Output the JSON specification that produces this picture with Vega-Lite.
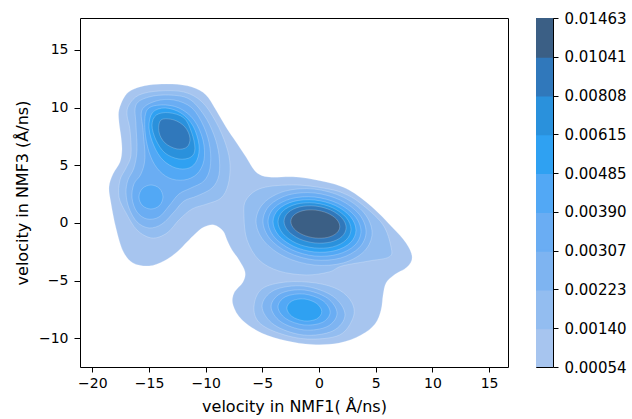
{
  "$schema": "https://vega.github.io/schema/vega-lite/v6.json",
  "padding": {"left": 13, "top": 10, "right": 0, "bottom": 0},
  "bounds": "flush",
  "spacing": 28,
  "config": {
    "view": {"stroke": "#000000", "strokeWidth": 1},
    "font": "DejaVu Sans",
    "axis": {"domain": false, "grid": false, "tickColor": "#000000", "tickWidth": 1, "labelColor": "#000000", "labelFont": "DejaVu Sans", "labelFontSize": 14, "titleFont": "DejaVu Sans", "titleFontSize": 16, "titleFontWeight": "normal", "titleColor": "#000000"}
  },
  "hconcat": [
    {
      "width": 428,
      "height": 349,
      "data": {"values": [
        {"p":"1a","lev":1,"i":0,"x":-17.65,"y":9.78},{"p":"1a","lev":1,"i":1,"x":-17.12,"y":11.00},{"p":"1a","lev":1,"i":2,"x":-16.33,"y":11.60},{"p":"1a","lev":1,"i":3,"x":-15.00,"y":11.95},{"p":"1a","lev":1,"i":4,"x":-12.97,"y":12.03},{"p":"1a","lev":1,"i":5,"x":-11.21,"y":11.77},{"p":"1a","lev":1,"i":6,"x":-9.97,"y":11.08},{"p":"1a","lev":1,"i":7,"x":-9.09,"y":9.78},{"p":"1a","lev":1,"i":8,"x":-8.21,"y":8.31},{"p":"1a","lev":1,"i":9,"x":-7.32,"y":7.01},{"p":"1a","lev":1,"i":10,"x":-6.44,"y":5.71},{"p":"1a","lev":1,"i":11,"x":-5.56,"y":4.42},{"p":"1a","lev":1,"i":12,"x":-4.41,"y":3.98},{"p":"1a","lev":1,"i":13,"x":-2.03,"y":3.98},{"p":"1a","lev":1,"i":14,"x":0.62,"y":3.55},{"p":"1a","lev":1,"i":15,"x":2.65,"y":2.86},{"p":"1a","lev":1,"i":16,"x":4.68,"y":1.39},{"p":"1a","lev":1,"i":17,"x":6.44,"y":-0.35},{"p":"1a","lev":1,"i":18,"x":7.68,"y":-1.73},{"p":"1a","lev":1,"i":19,"x":8.21,"y":-2.94},{"p":"1a","lev":1,"i":20,"x":7.77,"y":-3.81},{"p":"1a","lev":1,"i":21,"x":6.62,"y":-4.50},{"p":"1a","lev":1,"i":22,"x":5.91,"y":-5.19},{"p":"1a","lev":1,"i":23,"x":5.65,"y":-6.23},{"p":"1a","lev":1,"i":24,"x":5.47,"y":-7.53},{"p":"1a","lev":1,"i":25,"x":4.94,"y":-8.74},{"p":"1a","lev":1,"i":26,"x":3.71,"y":-9.70},{"p":"1a","lev":1,"i":27,"x":1.77,"y":-10.40},{"p":"1a","lev":1,"i":28,"x":-0.62,"y":-10.52},{"p":"1a","lev":1,"i":29,"x":-2.91,"y":-10.20},{"p":"1a","lev":1,"i":30,"x":-5.03,"y":-9.55},{"p":"1a","lev":1,"i":31,"x":-6.79,"y":-8.40},{"p":"1a","lev":1,"i":32,"x":-7.59,"y":-7.10},{"p":"1a","lev":1,"i":33,"x":-7.50,"y":-6.06},{"p":"1a","lev":1,"i":34,"x":-6.71,"y":-5.11},{"p":"1a","lev":1,"i":35,"x":-6.53,"y":-4.24},{"p":"1a","lev":1,"i":36,"x":-7.06,"y":-3.20},{"p":"1a","lev":1,"i":37,"x":-7.68,"y":-2.34},{"p":"1a","lev":1,"i":38,"x":-8.12,"y":-1.47},{"p":"1a","lev":1,"i":39,"x":-8.47,"y":-0.69},{"p":"1a","lev":1,"i":40,"x":-9.27,"y":-0.17},{"p":"1a","lev":1,"i":41,"x":-10.15,"y":-0.35},{"p":"1a","lev":1,"i":42,"x":-10.94,"y":-0.95},{"p":"1a","lev":1,"i":43,"x":-11.65,"y":-1.65},{"p":"1a","lev":1,"i":44,"x":-12.53,"y":-2.51},{"p":"1a","lev":1,"i":45,"x":-13.68,"y":-3.29},{"p":"1a","lev":1,"i":46,"x":-15.00,"y":-3.72},{"p":"1a","lev":1,"i":47,"x":-16.42,"y":-3.46},{"p":"1a","lev":1,"i":48,"x":-17.30,"y":-2.42},{"p":"1a","lev":1,"i":49,"x":-17.92,"y":-0.43},{"p":"1a","lev":1,"i":50,"x":-18.36,"y":1.73},{"p":"1a","lev":1,"i":51,"x":-18.53,"y":3.12},{"p":"1a","lev":1,"i":52,"x":-18.18,"y":4.24},{"p":"1a","lev":1,"i":53,"x":-17.56,"y":5.28},{"p":"1a","lev":1,"i":54,"x":-17.39,"y":6.32},{"p":"1a","lev":1,"i":55,"x":-17.47,"y":7.45},{"p":"1a","lev":1,"i":56,"x":-17.65,"y":8.74},

        {"p":"2a","lev":2,"i":0,"x":-16.77,"y":10.22},{"p":"2a","lev":2,"i":1,"x":-15.89,"y":11.08},{"p":"2a","lev":2,"i":2,"x":-14.12,"y":11.43},{"p":"2a","lev":2,"i":3,"x":-11.92,"y":11.34},{"p":"2a","lev":2,"i":4,"x":-10.32,"y":10.48},{"p":"2a","lev":2,"i":5,"x":-9.09,"y":8.74},{"p":"2a","lev":2,"i":6,"x":-8.21,"y":6.75},{"p":"2a","lev":2,"i":7,"x":-7.85,"y":5.02},{"p":"2a","lev":2,"i":8,"x":-8.03,"y":3.29},{"p":"2a","lev":2,"i":9,"x":-8.65,"y":2.16},{"p":"2a","lev":2,"i":10,"x":-9.88,"y":1.65},{"p":"2a","lev":2,"i":11,"x":-11.21,"y":1.21},{"p":"2a","lev":2,"i":12,"x":-12.36,"y":0.26},{"p":"2a","lev":2,"i":13,"x":-13.42,"y":-0.87},{"p":"2a","lev":2,"i":14,"x":-14.74,"y":-1.30},{"p":"2a","lev":2,"i":15,"x":-16.06,"y":-0.61},{"p":"2a","lev":2,"i":16,"x":-17.03,"y":0.87},{"p":"2a","lev":2,"i":17,"x":-17.65,"y":2.25},{"p":"2a","lev":2,"i":18,"x":-17.56,"y":3.72},{"p":"2a","lev":2,"i":19,"x":-17.03,"y":4.76},{"p":"2a","lev":2,"i":20,"x":-16.59,"y":5.89},{"p":"2a","lev":2,"i":21,"x":-16.68,"y":8.05},{"p":"2a","lev":2,"i":22,"x":-16.94,"y":9.35},

        {"p":"2b","lev":2,"i":0,"x":-6.44,"y":1.99},{"p":"2b","lev":2,"i":1,"x":-5.03,"y":3.03},{"p":"2b","lev":2,"i":2,"x":-2.03,"y":3.29},{"p":"2b","lev":2,"i":3,"x":0.80,"y":2.95},{"p":"2b","lev":2,"i":4,"x":2.20,"y":2.55},{"p":"2b","lev":2,"i":5,"x":3.60,"y":1.75},{"p":"2b","lev":2,"i":6,"x":5.60,"y":-0.10},{"p":"2b","lev":2,"i":7,"x":6.35,"y":-2.08},{"p":"2b","lev":2,"i":8,"x":6.18,"y":-2.94},{"p":"2b","lev":2,"i":9,"x":4.41,"y":-3.29},{"p":"2b","lev":2,"i":10,"x":2.03,"y":-3.72},{"p":"2b","lev":2,"i":11,"x":0.88,"y":-4.24},{"p":"2b","lev":2,"i":12,"x":-1.15,"y":-4.50},{"p":"2b","lev":2,"i":13,"x":-3.53,"y":-4.16},{"p":"2b","lev":2,"i":14,"x":-5.30,"y":-3.20},{"p":"2b","lev":2,"i":15,"x":-6.35,"y":-1.47},{"p":"2b","lev":2,"i":16,"x":-6.62,"y":0.52},

        {"p":"2c","lev":2,"i":0,"x":-5.03,"y":-5.70},{"p":"2c","lev":2,"i":1,"x":-2.91,"y":-5.11},{"p":"2c","lev":2,"i":2,"x":-0.26,"y":-5.20},{"p":"2c","lev":2,"i":3,"x":1.77,"y":-5.80},{"p":"2c","lev":2,"i":4,"x":2.90,"y":-6.90},{"p":"2c","lev":2,"i":5,"x":3.00,"y":-8.20},{"p":"2c","lev":2,"i":6,"x":1.80,"y":-9.70},{"p":"2c","lev":2,"i":7,"x":-1.00,"y":-10.05},{"p":"2c","lev":2,"i":8,"x":-3.50,"y":-9.55},{"p":"2c","lev":2,"i":9,"x":-5.30,"y":-8.60},{"p":"2c","lev":2,"i":10,"x":-5.74,"y":-7.20},

        {"p":"3a","lev":3,"i":0,"x":-16.15,"y":10.22},{"p":"3a","lev":3,"i":1,"x":-15.00,"y":10.91},{"p":"3a","lev":3,"i":2,"x":-13.24,"y":11.08},{"p":"3a","lev":3,"i":3,"x":-11.47,"y":10.74},{"p":"3a","lev":3,"i":4,"x":-10.15,"y":9.35},{"p":"3a","lev":3,"i":5,"x":-9.27,"y":7.62},{"p":"3a","lev":3,"i":6,"x":-8.83,"y":5.89},{"p":"3a","lev":3,"i":7,"x":-8.83,"y":4.16},{"p":"3a","lev":3,"i":8,"x":-9.44,"y":3.03},{"p":"3a","lev":3,"i":9,"x":-10.77,"y":2.34},{"p":"3a","lev":3,"i":10,"x":-11.92,"y":1.90},{"p":"3a","lev":3,"i":11,"x":-12.80,"y":0.95},{"p":"3a","lev":3,"i":12,"x":-13.86,"y":-0.09},{"p":"3a","lev":3,"i":13,"x":-15.00,"y":-0.43},{"p":"3a","lev":3,"i":14,"x":-16.06,"y":0.09},{"p":"3a","lev":3,"i":15,"x":-16.77,"y":1.30},{"p":"3a","lev":3,"i":16,"x":-17.03,"y":2.60},{"p":"3a","lev":3,"i":17,"x":-16.86,"y":3.72},{"p":"3a","lev":3,"i":18,"x":-16.33,"y":4.76},{"p":"3a","lev":3,"i":19,"x":-16.06,"y":6.32},{"p":"3a","lev":3,"i":20,"x":-16.15,"y":8.48},

        {"p":"3b","lev":3,"i":0,"x":4.68,"y":-0.86},{"p":"3b","lev":3,"i":1,"x":3.99,"y":0.85},{"p":"3b","lev":3,"i":2,"x":2.12,"y":2.24},{"p":"3b","lev":3,"i":3,"x":-0.44,"y":2.94},{"p":"3b","lev":3,"i":4,"x":-3.00,"y":2.76},{"p":"3b","lev":3,"i":5,"x":-4.87,"y":1.74},{"p":"3b","lev":3,"i":6,"x":-5.56,"y":0.16},{"p":"3b","lev":3,"i":7,"x":-4.87,"y":-1.55},{"p":"3b","lev":3,"i":8,"x":-3.00,"y":-2.94},{"p":"3b","lev":3,"i":9,"x":-0.44,"y":-3.64},{"p":"3b","lev":3,"i":10,"x":2.12,"y":-3.46},{"p":"3b","lev":3,"i":11,"x":3.99,"y":-2.44},

        {"p":"3c","lev":3,"i":0,"x":2.29,"y":-7.95},{"p":"3c","lev":3,"i":1,"x":1.22,"y":-6.34},{"p":"3c","lev":3,"i":2,"x":-1.37,"y":-5.46},{"p":"3c","lev":3,"i":3,"x":-3.96,"y":-5.82},{"p":"3c","lev":3,"i":4,"x":-5.03,"y":-7.21},{"p":"3c","lev":3,"i":5,"x":-3.96,"y":-8.82},{"p":"3c","lev":3,"i":6,"x":-1.37,"y":-9.70},{"p":"3c","lev":3,"i":7,"x":1.22,"y":-9.34},

        {"p":"4a","lev":4,"i":0,"x":-15.62,"y":9.78},{"p":"4a","lev":4,"i":1,"x":-14.38,"y":10.56},{"p":"4a","lev":4,"i":2,"x":-12.80,"y":10.65},{"p":"4a","lev":4,"i":3,"x":-11.21,"y":9.96},{"p":"4a","lev":4,"i":4,"x":-10.15,"y":8.31},{"p":"4a","lev":4,"i":5,"x":-9.62,"y":6.49},{"p":"4a","lev":4,"i":6,"x":-9.62,"y":4.76},{"p":"4a","lev":4,"i":7,"x":-10.15,"y":3.64},{"p":"4a","lev":4,"i":8,"x":-11.30,"y":3.03},{"p":"4a","lev":4,"i":9,"x":-12.36,"y":2.51},{"p":"4a","lev":4,"i":10,"x":-13.24,"y":1.47},{"p":"4a","lev":4,"i":11,"x":-14.12,"y":0.52},{"p":"4a","lev":4,"i":12,"x":-15.18,"y":0.35},{"p":"4a","lev":4,"i":13,"x":-16.06,"y":0.95},{"p":"4a","lev":4,"i":14,"x":-16.50,"y":2.16},{"p":"4a","lev":4,"i":15,"x":-16.33,"y":3.38},{"p":"4a","lev":4,"i":16,"x":-15.71,"y":4.24},{"p":"4a","lev":4,"i":17,"x":-15.36,"y":5.63},{"p":"4a","lev":4,"i":18,"x":-15.53,"y":8.05},

        {"p":"4b","lev":4,"i":0,"x":4.15,"y":-0.76},{"p":"4b","lev":4,"i":1,"x":3.54,"y":0.76},{"p":"4b","lev":4,"i":2,"x":1.88,"y":1.98},{"p":"4b","lev":4,"i":3,"x":-0.40,"y":2.60},{"p":"4b","lev":4,"i":4,"x":-2.68,"y":2.44},{"p":"4b","lev":4,"i":5,"x":-4.34,"y":1.54},{"p":"4b","lev":4,"i":6,"x":-4.95,"y":0.16},{"p":"4b","lev":4,"i":7,"x":-4.34,"y":-1.36},{"p":"4b","lev":4,"i":8,"x":-2.68,"y":-2.58},{"p":"4b","lev":4,"i":9,"x":-0.40,"y":-3.20},{"p":"4b","lev":4,"i":10,"x":1.88,"y":-3.04},{"p":"4b","lev":4,"i":11,"x":3.54,"y":-2.14},

        {"p":"4c","lev":4,"i":0,"x":1.59,"y":-7.82},{"p":"4c","lev":4,"i":1,"x":0.74,"y":-6.51},{"p":"4c","lev":4,"i":2,"x":-1.32,"y":-5.80},{"p":"4c","lev":4,"i":3,"x":-3.38,"y":-6.10},{"p":"4c","lev":4,"i":4,"x":-4.23,"y":-7.24},{"p":"4c","lev":4,"i":5,"x":-3.38,"y":-8.55},{"p":"4c","lev":4,"i":6,"x":-1.32,"y":-9.26},{"p":"4c","lev":4,"i":7,"x":0.74,"y":-8.96},

        {"p":"5a","lev":5,"i":0,"x":-15.18,"y":9.78},{"p":"5a","lev":5,"i":1,"x":-13.94,"y":10.22},{"p":"5a","lev":5,"i":2,"x":-12.36,"y":9.96},{"p":"5a","lev":5,"i":3,"x":-11.03,"y":8.92},{"p":"5a","lev":5,"i":4,"x":-10.24,"y":7.19},{"p":"5a","lev":5,"i":5,"x":-10.15,"y":5.45},{"p":"5a","lev":5,"i":6,"x":-10.77,"y":4.24},{"p":"5a","lev":5,"i":7,"x":-11.92,"y":3.72},{"p":"5a","lev":5,"i":8,"x":-13.24,"y":3.90},{"p":"5a","lev":5,"i":9,"x":-14.30,"y":4.76},{"p":"5a","lev":5,"i":10,"x":-15.00,"y":6.15},{"p":"5a","lev":5,"i":11,"x":-15.36,"y":8.05},

        {"p":"5b","lev":5,"i":0,"x":-14.83,"y":3.29},{"p":"5b","lev":5,"i":1,"x":-14.08,"y":2.99},{"p":"5b","lev":5,"i":2,"x":-13.77,"y":2.25},{"p":"5b","lev":5,"i":3,"x":-14.08,"y":1.51},{"p":"5b","lev":5,"i":4,"x":-14.83,"y":1.21},{"p":"5b","lev":5,"i":5,"x":-15.58,"y":1.51},{"p":"5b","lev":5,"i":6,"x":-15.89,"y":2.25},{"p":"5b","lev":5,"i":7,"x":-15.58,"y":2.99},

        {"p":"5c","lev":5,"i":0,"x":3.70,"y":-0.71},{"p":"5c","lev":5,"i":1,"x":3.15,"y":0.62},{"p":"5c","lev":5,"i":2,"x":1.65,"y":1.70},{"p":"5c","lev":5,"i":3,"x":-0.40,"y":2.25},{"p":"5c","lev":5,"i":4,"x":-2.45,"y":2.11},{"p":"5c","lev":5,"i":5,"x":-3.95,"y":1.33},{"p":"5c","lev":5,"i":6,"x":-4.50,"y":0.11},{"p":"5c","lev":5,"i":7,"x":-3.95,"y":-1.22},{"p":"5c","lev":5,"i":8,"x":-2.45,"y":-2.30},{"p":"5c","lev":5,"i":9,"x":-0.40,"y":-2.86},{"p":"5c","lev":5,"i":10,"x":1.65,"y":-2.71},{"p":"5c","lev":5,"i":11,"x":3.15,"y":-1.93},

        {"p":"5d","lev":5,"i":0,"x":0.98,"y":-7.72},{"p":"5d","lev":5,"i":1,"x":0.31,"y":-6.71},{"p":"5d","lev":5,"i":2,"x":-1.32,"y":-6.15},{"p":"5d","lev":5,"i":3,"x":-2.95,"y":-6.38},{"p":"5d","lev":5,"i":4,"x":-3.62,"y":-7.26},{"p":"5d","lev":5,"i":5,"x":-2.95,"y":-8.27},{"p":"5d","lev":5,"i":6,"x":-1.32,"y":-8.83},{"p":"5d","lev":5,"i":7,"x":0.31,"y":-8.60},

        {"p":"6a","lev":6,"i":0,"x":-14.70,"y":9.55},{"p":"6a","lev":6,"i":1,"x":-13.59,"y":9.96},{"p":"6a","lev":6,"i":2,"x":-12.18,"y":9.52},{"p":"6a","lev":6,"i":3,"x":-11.12,"y":8.40},{"p":"6a","lev":6,"i":4,"x":-10.59,"y":6.75},{"p":"6a","lev":6,"i":5,"x":-10.77,"y":5.45},{"p":"6a","lev":6,"i":6,"x":-11.47,"y":4.76},{"p":"6a","lev":6,"i":7,"x":-12.62,"y":4.76},{"p":"6a","lev":6,"i":8,"x":-13.77,"y":5.45},{"p":"6a","lev":6,"i":9,"x":-14.56,"y":6.67},{"p":"6a","lev":6,"i":10,"x":-15.00,"y":8.23},

        {"p":"6b","lev":6,"i":0,"x":3.26,"y":-0.63},{"p":"6b","lev":6,"i":1,"x":2.77,"y":0.55},{"p":"6b","lev":6,"i":2,"x":1.43,"y":1.51},{"p":"6b","lev":6,"i":3,"x":-0.40,"y":1.99},{"p":"6b","lev":6,"i":4,"x":-2.23,"y":1.87},{"p":"6b","lev":6,"i":5,"x":-3.57,"y":1.18},{"p":"6b","lev":6,"i":6,"x":-4.06,"y":0.11},{"p":"6b","lev":6,"i":7,"x":-3.57,"y":-1.07},{"p":"6b","lev":6,"i":8,"x":-2.23,"y":-2.03},{"p":"6b","lev":6,"i":9,"x":-0.40,"y":-2.51},{"p":"6b","lev":6,"i":10,"x":1.43,"y":-2.39},{"p":"6b","lev":6,"i":11,"x":2.77,"y":-1.70},

        {"p":"6c","lev":6,"i":0,"x":0.24,"y":-7.68},{"p":"6c","lev":6,"i":1,"x":-0.21,"y":-6.97},{"p":"6c","lev":6,"i":2,"x":-1.30,"y":-6.58},{"p":"6c","lev":6,"i":3,"x":-2.39,"y":-6.75},{"p":"6c","lev":6,"i":4,"x":-2.84,"y":-7.38},{"p":"6c","lev":6,"i":5,"x":-2.39,"y":-8.09},{"p":"6c","lev":6,"i":6,"x":-1.30,"y":-8.48},{"p":"6c","lev":6,"i":7,"x":-0.21,"y":-8.31},

        {"p":"7a","lev":7,"i":0,"x":-14.35,"y":9.35},{"p":"7a","lev":7,"i":1,"x":-13.24,"y":9.55},{"p":"7a","lev":7,"i":2,"x":-11.92,"y":9.09},{"p":"7a","lev":7,"i":3,"x":-11.25,"y":7.85},{"p":"7a","lev":7,"i":4,"x":-10.95,"y":6.45},{"p":"7a","lev":7,"i":5,"x":-11.30,"y":5.71},{"p":"7a","lev":7,"i":6,"x":-12.36,"y":5.54},{"p":"7a","lev":7,"i":7,"x":-13.59,"y":6.06},{"p":"7a","lev":7,"i":8,"x":-14.39,"y":7.19},{"p":"7a","lev":7,"i":9,"x":-14.74,"y":8.48},

        {"p":"7b","lev":7,"i":0,"x":2.82,"y":-0.54},{"p":"7b","lev":7,"i":1,"x":2.39,"y":0.48},{"p":"7b","lev":7,"i":2,"x":1.21,"y":1.31},{"p":"7b","lev":7,"i":3,"x":-0.40,"y":1.73},{"p":"7b","lev":7,"i":4,"x":-2.01,"y":1.63},{"p":"7b","lev":7,"i":5,"x":-3.19,"y":1.03},{"p":"7b","lev":7,"i":6,"x":-3.62,"y":0.10},{"p":"7b","lev":7,"i":7,"x":-3.19,"y":-0.92},{"p":"7b","lev":7,"i":8,"x":-2.01,"y":-1.75},{"p":"7b","lev":7,"i":9,"x":-0.40,"y":-2.16},{"p":"7b","lev":7,"i":10,"x":1.21,"y":-2.07},{"p":"7b","lev":7,"i":11,"x":2.39,"y":-1.47},

        {"p":"8a","lev":8,"i":0,"x":-13.94,"y":8.92},{"p":"8a","lev":8,"i":1,"x":-12.80,"y":8.92},{"p":"8a","lev":8,"i":2,"x":-11.83,"y":8.31},{"p":"8a","lev":8,"i":3,"x":-11.39,"y":7.36},{"p":"8a","lev":8,"i":4,"x":-11.65,"y":6.58},{"p":"8a","lev":8,"i":5,"x":-12.53,"y":6.41},{"p":"8a","lev":8,"i":6,"x":-13.59,"y":6.93},{"p":"8a","lev":8,"i":7,"x":-14.12,"y":7.88},

        {"p":"8b","lev":8,"i":0,"x":2.39,"y":-0.40},{"p":"8b","lev":8,"i":1,"x":2.02,"y":0.43},{"p":"8b","lev":8,"i":2,"x":1.02,"y":1.12},{"p":"8b","lev":8,"i":3,"x":-0.35,"y":1.47},{"p":"8b","lev":8,"i":4,"x":-1.72,"y":1.39},{"p":"8b","lev":8,"i":5,"x":-2.72,"y":0.91},{"p":"8b","lev":8,"i":6,"x":-3.09,"y":0.14},{"p":"8b","lev":8,"i":7,"x":-2.72,"y":-0.69},{"p":"8b","lev":8,"i":8,"x":-1.72,"y":-1.38},{"p":"8b","lev":8,"i":9,"x":-0.35,"y":-1.73},{"p":"8b","lev":8,"i":10,"x":1.02,"y":-1.65},{"p":"8b","lev":8,"i":11,"x":2.02,"y":-1.17},

        {"p":"9a","lev":9,"i":0,"x":1.83,"y":-0.31},{"p":"9a","lev":9,"i":1,"x":1.54,"y":0.33},{"p":"9a","lev":9,"i":2,"x":0.75,"y":0.85},{"p":"9a","lev":9,"i":3,"x":-0.33,"y":1.12},{"p":"9a","lev":9,"i":4,"x":-1.41,"y":1.07},{"p":"9a","lev":9,"i":5,"x":-2.20,"y":0.70},{"p":"9a","lev":9,"i":6,"x":-2.49,"y":0.13},{"p":"9a","lev":9,"i":7,"x":-2.20,"y":-0.51},{"p":"9a","lev":9,"i":8,"x":-1.41,"y":-1.03},{"p":"9a","lev":9,"i":9,"x":-0.33,"y":-1.30},{"p":"9a","lev":9,"i":10,"x":0.75,"y":-1.25},{"p":"9a","lev":9,"i":11,"x":1.54,"y":-0.88}
      ]},
      "mark": {"type": "line", "interpolate": "cardinal-closed", "stroke": "#ffffff", "strokeWidth": 0.6, "strokeOpacity": 0.35, "clip": true},
      "encoding": {
        "x": {"field": "x", "type": "quantitative", "scale": {"domain": [-21.09, 16.67], "nice": false, "zero": false},
              "axis": {"title": "velocity in NMF1( Å/ns)", "values": [-20, -15, -10, -5, 0, 5, 10, 15], "labelExpr": "replace(datum.label, '-', '−')", "tickSize": 5, "labelPadding": 4, "titlePadding": 8}},
        "y": {"field": "y", "type": "quantitative", "scale": {"domain": [-12.47, 17.75], "nice": false, "zero": false},
              "axis": {"title": "velocity in NMF3 (Å/ns)", "values": [-10, -5, 0, 5, 10, 15], "labelExpr": "replace(datum.label, '-', '−')", "tickSize": 6, "labelPadding": 6, "titlePadding": 8}},
        "detail": {"field": "p", "type": "nominal"},
        "order": {"field": "i", "type": "quantitative"},
        "fill": {"field": "lev", "type": "ordinal", "scale": {"domain": [1, 2, 3, 4, 5, 6, 7, 8, 9], "range": ["#a7c5ef", "#93bdf0", "#7eb4f1", "#6aadf3", "#52a8f5", "#2fa1f2", "#2a91dc", "#3078bb", "#3b5f85"]}, "legend": null}
      }
    },
    {
      "width": 17,
      "height": 349,
      "data": {"values": [
        {"lo": 0, "hi": 1, "lev": 1}, {"lo": 1, "hi": 2, "lev": 2}, {"lo": 2, "hi": 3, "lev": 3},
        {"lo": 3, "hi": 4, "lev": 4}, {"lo": 4, "hi": 5, "lev": 5}, {"lo": 5, "hi": 6, "lev": 6},
        {"lo": 6, "hi": 7, "lev": 7}, {"lo": 7, "hi": 8, "lev": 8}, {"lo": 8, "hi": 9, "lev": 9}
      ]},
      "mark": {"type": "rect", "strokeWidth": 2, "clip": true},
      "encoding": {
        "y": {"field": "lo", "type": "quantitative", "scale": {"domain": [0, 9], "nice": false, "zero": false},
              "axis": {"orient": "right", "title": null, "values": [0, 1, 2, 3, 4, 5, 6, 7, 8, 9], "labelExpr": "['0.00054','0.00140','0.00223','0.00307','0.00390','0.00485','0.00615','0.00808','0.01041','0.01463'][datum.value]", "tickSize": 5, "labelPadding": 6, "labelFontSize": 15}},
        "y2": {"field": "hi"},
        "fill": {"field": "lev", "type": "ordinal", "scale": {"domain": [1, 2, 3, 4, 5, 6, 7, 8, 9], "range": ["#a7c5ef", "#93bdf0", "#7eb4f1", "#6aadf3", "#52a8f5", "#2fa1f2", "#2a91dc", "#3078bb", "#3b5f85"]}, "legend": null},
        "stroke": {"field": "lev", "type": "ordinal", "scale": {"domain": [1, 2, 3, 4, 5, 6, 7, 8, 9], "range": ["#a7c5ef", "#93bdf0", "#7eb4f1", "#6aadf3", "#52a8f5", "#2fa1f2", "#2a91dc", "#3078bb", "#3b5f85"]}, "legend": null}
      }
    }
  ]
}
